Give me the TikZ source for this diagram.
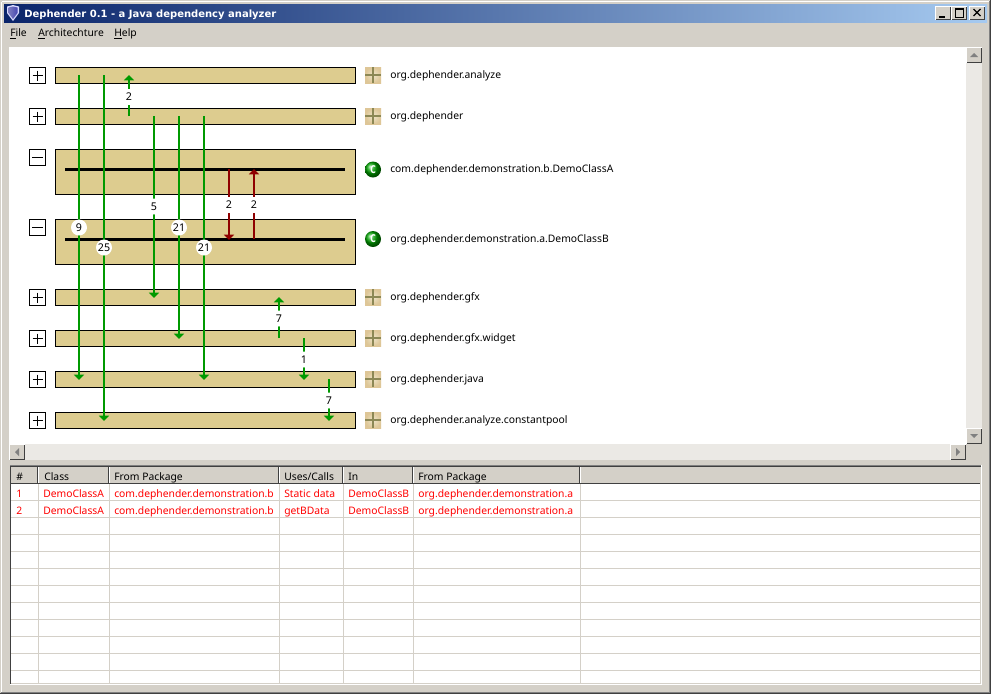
\documentclass[tikz,border=0pt]{standalone}
\usepackage{fontspec}
\usetikzlibrary{arrows.meta,shadings}
\setmainfont{Noto Sans}
\newfontfamily\ttlfont{DejaVu Sans}
\definecolor{winbg}{HTML}{D4D0C8}
\definecolor{track}{HTML}{EBE9E5}
\definecolor{sand}{HTML}{DDCC8F}
\definecolor{dep}{HTML}{009900}
\definecolor{cyc}{HTML}{8F0000}
\definecolor{tbar}{HTML}{0A246A}
\definecolor{tbarr}{HTML}{A6CAF0}
\definecolor{icoA}{HTML}{E3D3A6}
\definecolor{icoB}{HTML}{8C8855}
\definecolor{dk}{HTML}{404040}
\definecolor{mid}{HTML}{808080}
\tikzset{
 x=0.75pt,y=-0.75pt,
 pk/.style={draw=black,line width=0.9pt,fill=sand,rectangle,minimum width=225pt,minimum height=12pt,inner sep=0pt,anchor=north west},
 pkbig/.style={pk,minimum height=33.75pt},
 tog/.style={draw=black,line width=0.75pt,fill=white,rectangle,minimum size=12pt,inner sep=0pt,anchor=north west},
 lab/.style={font=\fontsize{7.75pt}{10pt}\selectfont,anchor=base west,inner sep=0pt,text=black},
 cnt/.style={circle,fill=white,font=\fontsize{8pt}{10pt}\selectfont,inner sep=0pt,minimum size=12pt,text=black},
 green/.style={draw=dep,line width=1.5pt,-{Triangle[width=7.5pt,length=4pt]}},
 red/.style={draw=cyc,line width=1.5pt,-{Triangle[width=7.5pt,length=4pt]}},
 th/.style={lab},
 td/.style={lab,text=red},
}
\newcommand{\btn}[5]{% x1 y1 x2 y2 name
 \fill[white] (#1,#2) rectangle (#3,#4);
 \fill[dk] (#1+1,#2+1) rectangle (#3,#4);
 \fill[winbg] (#1+1,#2+1) rectangle (#3-1,#4-1);
 \coordinate (#5) at ({(#1+#3)/2},{(#2+#4)/2});
}
\newcommand{\plusbox}[3]{% x y name
 \node[tog] (#3) at (#1,#2) {};
 \draw[line width=0.75pt] (#3.center) ++(-5,0) -- ++(10,0) (#3.center) ++(0,-5) -- ++(0,10);
}
\newcommand{\minusbox}[3]{%
 \node[tog] (#3) at (#1,#2) {};
 \draw[line width=0.75pt] (#3.center) ++(-5.5,0) -- ++(11,0);
}
\newcommand{\pkicon}[3]{% x y(centre) name
 \coordinate (#3) at (#1,#2);
 \shade[inner color=icoA!60!white,outer color=icoA!85!brown] (#1-8,#2-8) rectangle (#1+8,#2+8);
 \draw[icoB,line width=1pt] (#1-8,#2) -- (#1+8,#2) (#1,#2-8) -- (#1,#2+8);
}
\newcommand{\clsicon}[3]{% x y name
 \shade[ball color=green!65!black] (#1,#2) circle (6pt);
 \node[font=\ttlfont\fontsize{8pt}{8pt}\selectfont\bfseries,text=white,inner sep=0pt,xscale=.7] (#3) at (#1,#2) {C};
}
\begin{document}
\begin{tikzpicture}
\useasboundingbox (0,0) rectangle (991,694);
% window
\fill[winbg] (0,0) rectangle (991,694);
\draw[white,line width=0.75pt] (1.5,1.5) -- (1.5,692.5) (1.5,1.5) -- (989.5,1.5);
\draw[dk,line width=0.75pt] (990.5,0) -- (990.5,693.5) -- (0,693.5);
\draw[mid,line width=0.75pt] (989.5,1) -- (989.5,692.5) -- (1,692.5);
\shade[left color=tbar,right color=tbarr] (4,4) rectangle (987,22);
% title icon
\fill[white!85!blue] (7,6.5) -- (13,5) -- (19,6.5) -- (19,13) -- (13,21) -- (7,13) -- cycle;
\shade[left color=blue!35!white!75!black,right color=blue!60!white!70!black] (8.5,7.5) -- (13,6.5) -- (17.5,7.5) -- (17.5,13) -- (13,19) -- (8.5,13) -- cycle;
\node[font=\ttlfont\fontsize{7.5pt}{10pt}\selectfont\bfseries,text=white,anchor=base west,inner sep=0pt] (title) at (24,17.5) {Dephender 0.1 - a Java dependency analyzer};
\btn{935}{6}{951}{20}{bmin}
\btn{951}{6}{967}{20}{bmax}
\btn{969}{6}{985}{20}{bclose}
\fill (939,15.5) rectangle (945,17.5);
\draw[line width=0.75pt] (955.5,8.5) rectangle (963.5,17);
\draw[line width=0.9pt] (955.5,9) -- (963.5,9);
\draw[line width=1pt] (973.5,9) -- (980.5,16) (980.5,9) -- (973.5,16);
% menu
\node[lab] (mfile) at (10,36) {\underline{F}ile};
\node[lab] (march) at (38,36) {\underline{A}rchitechture};
\node[lab] (mhelp) at (114,36) {\underline{H}elp};
% canvas
\fill[white] (9,47) rectangle (966,444);
\fill[track] (966,47) rectangle (982,444);
\fill[track] (9,444) rectangle (966,460);
\btn{966}{47}{982}{63}{sbu}
\btn{966}{428}{982}{444}{sbd}
\btn{9}{444}{25}{460}{sbl}
\btn{950}{444}{966}{460}{sbr}
\fill[mid] (970,57) -- (978,57) -- (974,53) -- cycle;
\fill[mid] (970,434) -- (978,434) -- (974,438) -- cycle;
\fill[mid] (19,448) -- (19,456) -- (15,452) -- cycle;
\fill[mid] (956,448) -- (956,456) -- (960,452) -- cycle;
% packages
\node[pk] (p1) at (55,67) {};
\node[pk] (p2) at (55,108) {};
\node[pkbig] (ca) at (55,149) {};
\node[pkbig] (cb) at (55,219) {};
\node[pk] (p3) at (55,289) {};
\node[pk] (p4) at (55,330) {};
\node[pk] (p5) at (55,371) {};
\node[pk] (p6) at (55,412) {};
\plusbox{29}{67}{t1}
\plusbox{29}{108}{t2}
\minusbox{29}{149}{t3}
\minusbox{29}{219}{t4}
\plusbox{29}{289}{t5}
\plusbox{29}{330}{t6}
\plusbox{29}{371}{t7}
\plusbox{29}{412}{t8}
\pkicon{373}{75}{i1}
\pkicon{373}{116}{i2}
\pkicon{373}{297}{i3}
\pkicon{373}{338}{i4}
\pkicon{373}{379}{i5}
\pkicon{373}{420}{i6}
\clsicon{373}{169.5}{i7}
\clsicon{373}{239}{i8}
\node[lab] (n1) at (390,78) {org.dephender.analyze};
\node[lab] (n2) at (390,119) {org.dephender};
\node[lab] (n3) at (390,172) {com.dephender.demonstration.b.DemoClassA};
\node[lab] (n4) at (390,242) {org.dephender.demonstration.a.DemoClassB};
\node[lab] (n5) at (390,300) {org.dephender.gfx};
\node[lab] (n6) at (390,341) {org.dephender.gfx.widget};
\node[lab] (n7) at (390,382) {org.dephender.java};
\node[lab] (n8) at (390,423) {org.dephender.analyze.constantpool};
% class bars
\coordinate (lca) at (65,169); \coordinate (rca) at (345,169);
\coordinate (lcb) at (65,239); \coordinate (rcb) at (345,239);
\draw[line width=2.25pt] (lca) -- (rca);
\draw[line width=2.25pt] (lcb) -- (rcb);
% connector end points
\foreach \nm/\xx/\yy in {a/79/75,az/79/380,b/104/75,bz/104/421,c/129/116,cz/129/75,d/154/116,dz/154/298,e/179/116,ez/179/339,f/204/116,fz/204/380,g/229/169,gz/229/240,h/254/239,hz/254/169,i/279/338,iz/279/297,j/304/338,jz/304/380,k/329/379,kz/329/421}
  {\coordinate (\nm) at (\xx,\yy);}
\draw[green] (a) -- (az);
\draw[green] (b) -- (bz);
\draw[green] (c) -- (cz);
\draw[green] (d) -- (dz);
\draw[green] (e) -- (ez);
\draw[green] (f) -- (fz);
\draw[red] (g) -- (gz);
\draw[red] (h) -- (hz);
\draw[green] (i) -- (iz);
\draw[green] (j) -- (jz);
\draw[green] (k) -- (kz);
\node[cnt] (l1) at (79,227.5) {9};
\node[cnt] (l2) at (104,247.5) {25};
\node[cnt] (l3) at (129,97) {2};
\node[cnt] (l4) at (154,206.5) {5};
\node[cnt] (l5) at (179,227.5) {21};
\node[cnt] (l6) at (204,247.5) {21};
\node[cnt] (l7) at (229,205) {2};
\node[cnt] (l8) at (254,205) {2};
\node[cnt] (l9) at (279,318.5) {7};
\node[cnt] (l10) at (304,359.5) {1};
\node[cnt] (l11) at (329,400.5) {7};
% table
\fill[white] (10,465) rectangle (982,685);
\fill[winbg] (10,465) rectangle (981,684);
\fill[mid] (10,465) rectangle (981,466);
\fill[dk] (10,466) rectangle (11,684);
\fill[dk] (11,466) rectangle (981,467);
\fill[white] (11,467) rectangle (980,683);
\fill[winbg] (11,467) rectangle (980,483);
\foreach \yy in {500,517,534,551,568,585,602,619,636,653,670}
  \draw[winbg,line width=0.75pt] (11,\yy+.5) -- (980,\yy+.5);
\foreach \xx in {38,109,279,343,413,580}{
  \draw[winbg,line width=0.75pt] (\xx+.5,484) -- (\xx+.5,683);
  \draw[dk,line width=0.75pt] (\xx-.5,467) -- (\xx-.5,483);
  \draw[white,line width=0.75pt] (\xx+.5,467) -- (\xx+.5,483);
}
\draw[dk,line width=0.75pt] (11,483.5) -- (980,483.5);
\node[th] (h1) at (16,480) {\#};
\node[th] (h2) at (44,480) {Class};
\node[th] (h3) at (114,480) {From Package};
\node[th] (h4) at (284,480) {Uses/Calls};
\node[th] (h5) at (348,480) {In};
\node[th] (h6) at (418,480) {From Package};
\foreach \nn/\yy/\uu in {1/497/Static data,2/514/getBData}{
 \node[td] at (16,\yy) {\nn};
 \node[td] at (43,\yy) {DemoClassA};
 \node[td] at (114,\yy) {com.dephender.demonstration.b};
 \node[td] at (284,\yy) {\uu};
 \node[td] at (348,\yy) {DemoClassB};
 \node[td] at (418,\yy) {org.dephender.demonstration.a};
}
\end{tikzpicture}
\end{document}
